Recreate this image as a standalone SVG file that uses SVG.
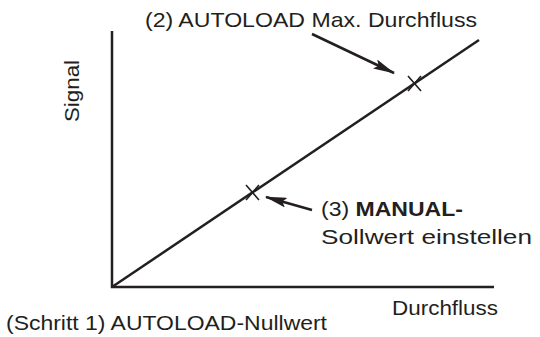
<svg xmlns="http://www.w3.org/2000/svg" width="540" height="337" viewBox="0 0 540 337">
  <style>
    .ln { stroke: #231f20; stroke-width: 2.5; fill: none; }
    .ptr { stroke: #231f20; stroke-width: 2.5; fill: none; marker-end: url(#head); }
    .mk { stroke: #231f20; stroke-width: 1.6; fill: none; }
    text { font-family: "Liberation Sans", Arial, sans-serif; font-size: 21px; fill: #231f20; }
    .b { font-weight: bold; }
  </style>
  <defs>
    <marker id="head" viewBox="0 0 22 10" refX="21" refY="5" markerWidth="22" markerHeight="10" orient="auto" markerUnits="userSpaceOnUse">
      <path d="M0,0 L22,5 L0,10 L4,5 Z" fill="#231f20"/>
    </marker>
  </defs>
  <rect width="540" height="337" fill="#ffffff"/>

  <g id="axes">
    <path class="ln" d="M112,31 V287 H494"/>
  </g>
  <g id="signal-line">
    <line class="ln" x1="112" y1="287" x2="479" y2="40"/>
  </g>
  <g id="point-max">
    <path class="mk" d="M408,76 L421,91 M421,76 L408,91"/>
  </g>
  <g id="point-manual">
    <path class="mk" d="M246,185 L259,200 M259,185 L246,200"/>
  </g>

  <g id="connectors">
    <line class="ptr" x1="312" y1="34" x2="394" y2="73"/>
    <line class="ptr" x1="312" y1="210" x2="266" y2="197"/>
  </g>

  <g id="labels">
    <text x="79" y="91" text-anchor="middle" transform="rotate(-90 79 91)" textLength="62" lengthAdjust="spacingAndGlyphs">Signal</text>
    <text x="145" y="27" textLength="332" lengthAdjust="spacingAndGlyphs">(2) AUTOLOAD Max. Durchfluss</text>
    <text x="321" y="216" textLength="142" lengthAdjust="spacingAndGlyphs">(3) <tspan class="b">MANUAL-</tspan></text>
    <text x="321" y="244" textLength="211" lengthAdjust="spacingAndGlyphs">Sollwert einstellen</text>
    <text x="392" y="315" textLength="106" lengthAdjust="spacingAndGlyphs">Durchfluss</text>
    <text x="6" y="330" textLength="321" lengthAdjust="spacingAndGlyphs">(Schritt 1) AUTOLOAD-Nullwert</text>
  </g>
</svg>
